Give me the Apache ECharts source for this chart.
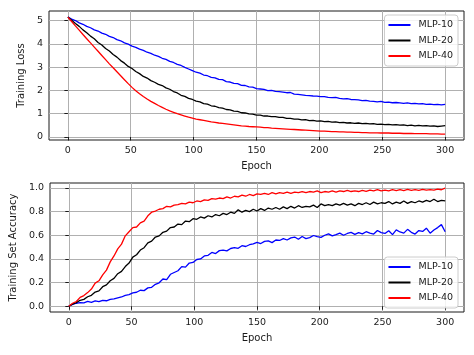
<!DOCTYPE html>
<html><head><meta charset="utf-8">
<script src="https://cdn.jsdelivr.net/npm/echarts@6/dist/echarts.min.js"></script>
<style>html,body{margin:0;padding:0;background:#fff}#c{width:474px;height:355px}</style>
</head><body><div id="c"></div>
<script>
// Sampled every 3 epochs (0,3,...,300)
const seriesNames = ['MLP-10', 'MLP-20', 'MLP-40'];
const xTicks = [0, 50, 100, 150, 200, 250, 300];
const lossTicks = [0, 1, 2, 3, 4, 5];
const accTicks = [0, 0.2, 0.4, 0.6, 0.8, 1.0];

const lossMLP10 = [5.15,5.06,5.00,4.90,4.84,4.75,4.69,4.60,4.55,4.46,4.41,4.32,4.27,4.18,4.13,4.04,3.99,3.90,3.85,3.77,
3.72,3.64,3.59,3.51,3.46,3.38,3.33,3.25,3.20,3.12,3.07,2.99,2.92,2.85,2.78,2.74,2.66,2.63,2.56,2.54,
2.47,2.46,2.38,2.36,2.30,2.29,2.22,2.21,2.15,2.14,2.08,2.06,2.04,1.99,2.00,1.96,1.95,1.93,1.90,1.91,
1.84,1.83,1.81,1.79,1.78,1.76,1.75,1.73,1.73,1.70,1.69,1.70,1.66,1.64,1.65,1.61,1.60,1.59,1.56,1.57,
1.54,1.53,1.51,1.53,1.49,1.50,1.47,1.48,1.46,1.44,1.46,1.43,1.44,1.42,1.43,1.40,1.41,1.39,1.40,1.38,1.40];
const lossMLP20 = [5.15,5.01,4.87,4.75,4.60,4.48,4.33,4.22,4.06,3.95,3.80,3.69,3.54,3.43,3.28,3.17,3.03,2.94,2.81,2.72,
2.60,2.53,2.42,2.35,2.26,2.21,2.11,2.05,1.95,1.89,1.79,1.74,1.66,1.61,1.54,1.51,1.43,1.41,1.34,1.32,
1.26,1.24,1.18,1.16,1.11,1.10,1.04,1.03,0.99,0.98,0.94,0.94,0.90,0.90,0.87,0.87,0.84,0.84,0.80,0.80,
0.77,0.77,0.73,0.74,0.70,0.71,0.68,0.69,0.66,0.67,0.64,0.65,0.62,0.63,0.60,0.61,0.58,0.60,0.57,0.58,
0.56,0.57,0.54,0.55,0.53,0.54,0.52,0.53,0.51,0.52,0.49,0.51,0.48,0.50,0.48,0.49,0.47,0.48,0.45,0.47,0.49];
const lossMLP40 = [5.15,4.96,4.77,4.59,4.40,4.22,4.04,3.86,3.68,3.50,3.32,3.14,2.97,2.80,2.63,2.46,2.29,2.13,1.99,1.86,
1.74,1.63,1.53,1.44,1.35,1.27,1.19,1.12,1.06,1.00,0.95,0.90,0.85,0.81,0.77,0.74,0.71,0.68,0.65,0.63,
0.60,0.58,0.56,0.54,0.52,0.50,0.48,0.47,0.45,0.44,0.43,0.42,0.40,0.40,0.38,0.37,0.36,0.35,0.34,0.33,
0.32,0.31,0.30,0.29,0.28,0.27,0.26,0.25,0.25,0.24,0.23,0.23,0.22,0.22,0.21,0.21,0.20,0.20,0.19,0.19,
0.18,0.18,0.18,0.17,0.17,0.17,0.16,0.16,0.16,0.15,0.15,0.15,0.14,0.14,0.14,0.14,0.13,0.13,0.13,0.12,0.12];

const accMLP10 = [0.000,0.015,0.025,0.030,0.028,0.040,0.033,0.045,0.038,0.050,0.046,0.058,0.062,0.070,0.078,0.092,0.098,0.112,0.118,0.135,
0.132,0.155,0.160,0.185,0.198,0.230,0.225,0.270,0.285,0.300,0.335,0.330,0.365,0.370,0.395,0.400,0.425,0.430,0.455,0.445,
0.470,0.475,0.468,0.488,0.495,0.490,0.512,0.505,0.520,0.528,0.540,0.530,0.548,0.552,0.538,0.560,0.556,0.572,0.560,0.578,
0.585,0.566,0.590,0.572,0.580,0.598,0.588,0.582,0.600,0.612,0.595,0.605,0.618,0.600,0.615,0.625,0.608,0.622,0.612,0.630,
0.618,0.610,0.640,0.622,0.615,0.638,0.605,0.645,0.628,0.618,0.650,0.625,0.610,0.640,0.632,0.660,0.618,0.645,0.665,0.690,0.630];
const accMLP20 = [0.000,0.018,0.030,0.050,0.058,0.080,0.092,0.120,0.130,0.165,0.180,0.215,0.235,0.275,0.295,0.335,0.365,0.415,0.435,0.475,
0.495,0.535,0.550,0.585,0.595,0.625,0.635,0.665,0.670,0.695,0.690,0.720,0.715,0.740,0.735,0.755,0.745,0.765,0.755,0.775,
0.765,0.785,0.775,0.795,0.785,0.815,0.795,0.810,0.800,0.820,0.805,0.825,0.810,0.830,0.820,0.835,0.820,0.840,0.825,0.845,
0.830,0.850,0.835,0.845,0.840,0.855,0.835,0.865,0.850,0.860,0.850,0.865,0.855,0.870,0.855,0.865,0.850,0.870,0.860,0.875,
0.860,0.880,0.865,0.875,0.870,0.885,0.865,0.880,0.870,0.890,0.870,0.885,0.875,0.890,0.880,0.895,0.885,0.905,0.885,0.895,0.890];
const accMLP40 = [0.000,0.025,0.040,0.075,0.090,0.115,0.145,0.195,0.215,0.265,0.305,0.375,0.425,0.485,0.525,0.595,0.630,0.665,0.670,0.705,
0.720,0.765,0.795,0.805,0.820,0.825,0.845,0.840,0.855,0.860,0.870,0.865,0.880,0.875,0.890,0.885,0.900,0.895,0.910,0.905,
0.915,0.910,0.925,0.915,0.930,0.925,0.940,0.930,0.945,0.935,0.950,0.945,0.955,0.945,0.960,0.950,0.960,0.955,0.965,0.955,
0.965,0.960,0.970,0.960,0.970,0.965,0.975,0.960,0.970,0.965,0.975,0.965,0.975,0.970,0.980,0.970,0.975,0.970,0.980,0.972,
0.982,0.975,0.985,0.975,0.982,0.976,0.985,0.978,0.986,0.978,0.988,0.980,0.986,0.980,0.988,0.982,0.986,0.982,0.990,0.985,0.998];

const colors = ['#0000ff', '#000000', '#ff0000'];
const epochs = lossMLP10.map((_, i) => i * 3);
const pair = arr => arr.map((v, i) => [epochs[i], v]);

const FONT = 'DejaVu Sans';
const gridLine = { show: true, lineStyle: { color: '#b0b0b0', width: 1 } };
function xAxis(gridIndex) {
  return {
    type: 'value', gridIndex, min: -15, max: 315,
    name: 'Epoch', nameLocation: 'middle', nameGap: 21,
    nameTextStyle: { fontFamily: FONT, fontSize: 10, color: '#1a1a1a' },
    axisLine: { show: false },
    axisTick: { show: true, length: 3.5, customValues: xTicks, lineStyle: { color: '#1a1a1a' } },
    axisLabel: { customValues: xTicks, margin: 6, fontFamily: FONT, fontSize: 9.5, color: '#1a1a1a' },
    splitLine: gridLine
  };
}
function yAxis(gridIndex, name, min, max, ticks, fmt, gap) {
  return {
    type: 'value', gridIndex, min, max,
    name, nameLocation: 'middle', nameGap: gap,
    nameTextStyle: { fontFamily: FONT, fontSize: 10, color: '#1a1a1a' },
    axisLine: { show: false },
    axisTick: { show: true, length: 3.5, customValues: ticks, lineStyle: { color: '#1a1a1a' } },
    axisLabel: { customValues: ticks, margin: 6, fontFamily: FONT, fontSize: 9.5, color: '#1a1a1a', formatter: fmt },
    splitLine: gridLine
  };
}
function legend(top) {
  return {
    data: seriesNames, orient: 'vertical', right: 16, top,
    icon: 'rect', itemWidth: 22, itemHeight: 2, itemGap: 5.5,
    padding: [5, 5, 5, 4],
    backgroundColor: 'rgba(255,255,255,0.85)', borderColor: '#cccccc', borderWidth: 1, borderRadius: 3,
    textStyle: { fontFamily: FONT, fontSize: 9.5, color: '#1a1a1a', padding: [0, 0, 0, 3] }
  };
}
const lossData = [lossMLP10, lossMLP20, lossMLP40];
const accData = [accMLP10, accMLP20, accMLP40];
const series = [];
lossData.forEach((d, k) => series.push({
  name: seriesNames[k], type: 'line', xAxisIndex: 0, yAxisIndex: 0, data: pair(d),
  showSymbol: false, symbol: 'none', lineStyle: { color: colors[k], width: 1.3 }, itemStyle: { color: colors[k] }, z: 3 + k
}));
accData.forEach((d, k) => series.push({
  name: seriesNames[k], type: 'line', xAxisIndex: 1, yAxisIndex: 1, data: pair(d),
  showSymbol: false, symbol: 'none', lineStyle: { color: colors[k], width: 1.3 }, itemStyle: { color: colors[k] }, z: 3 + k
}));

const chart = echarts.init(document.getElementById('c'), null, { renderer: 'canvas' });
chart.setOption({
  animation: false,
  backgroundColor: '#fff',
  grid: [
    { left: 49, top: 11, width: 415, height: 129, show: true, borderColor: '#1a1a1a', borderWidth: 1, backgroundColor: 'transparent' },
    { left: 49, top: 183, width: 415, height: 129, show: true, borderColor: '#1a1a1a', borderWidth: 1, backgroundColor: 'transparent' }
  ],
  xAxis: [xAxis(0), xAxis(1)],
  yAxis: [
    yAxis(0, 'Training Loss', -0.13, 5.41, lossTicks, v => String(v), 18),
    yAxis(1, 'Training Set Accuracy', -0.049, 1.042, accTicks, v => v.toFixed(1), 27)
  ],
  legend: [legend(15), legend(257)],
  series
});
</script></body></html>
